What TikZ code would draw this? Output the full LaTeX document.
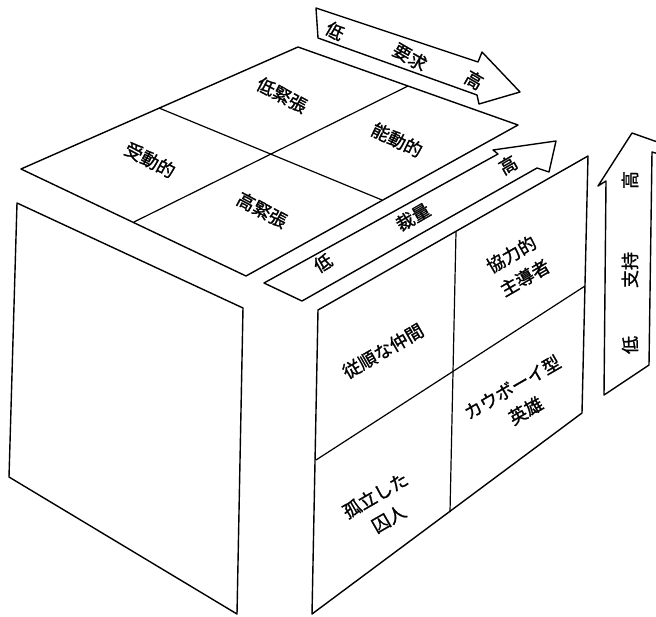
\documentclass[tikz,border=0pt]{standalone}
\usepackage{fontspec}
\newfontfamily\jp[FakeBold=1.2]{Noto Sans CJK JP}
\begin{document}
\begin{tikzpicture}[x=1pt,y=-1pt, line width=1.4pt, line join=round,
  face/.style={draw=black, fill=white},
  divider/.style={draw=black, line width=1.2pt},
  lbl/.style={font=\jp\fontsize{18}{27}\selectfont, inner sep=0pt, align=center},
]
\useasboundingbox (0,0) rectangle (656,616);
\clip (0,0) rectangle (656,616);
\fill[white] (0,0) rectangle (656,616);

% ---------- top face ----------
\coordinate (TL) at (21,169);
\coordinate (TT) at (298,47);
\coordinate (TR) at (518,125);
\coordinate (TB) at (246,276);
\draw[face] (TL) -- (TT) -- (TR) -- (TB) -- cycle;
\coordinate (Ta) at (159,108);
\coordinate (Tb) at (382,200);
\coordinate (Tc) at (408,86);
\coordinate (Td) at (134,222);
\draw[divider] (Ta) -- (Tb);
\draw[divider] (Tc) -- (Td);
\node[lbl, rotate=-28] (lowTension) at (282,95) {低緊張};
\node[lbl, rotate=-28] (passive) at (150,160) {受動的};
\node[lbl, rotate=-28] (highTension) at (262,210) {高緊張};
\node[lbl, rotate=-26] (active) at (397,140) {能動的};

% ---------- demand arrow ----------
\draw[face] (316,8) -- (478,62) -- (482,52) -- (520,92) -- (479,104) -- (477,95) -- (318,38) -- cycle;
\node[lbl, rotate=-30] (dLow) at (335,31) {低};
\node[lbl, rotate=-30] (dMid) at (410,57) {要求};
\node[lbl, rotate=-30] (dHigh) at (474,80) {高};

% ---------- discretion arrow ----------
\draw[face] (264,283) -- (498,154) -- (493,150) -- (556,141) -- (549,172) -- (537,168) -- (302,301) -- cycle;
\node[lbl, rotate=30] (cLow) at (323,263) {低};
\node[lbl, rotate=30] (cMid) at (413,217) {裁量};
\node[lbl, rotate=30] (cHigh) at (508,165) {高};

% ---------- support arrow ----------
\draw[face] (604,395) -- (606,181) -- (598,186) -- (632,133) -- (680,150) -- (680,160) -- (652,152) -- (649,365) -- cycle;
\node[lbl, rotate=90] (sHigh) at (630,180) {高};
\node[lbl, rotate=90] (sMid) at (630,270) {支持};
\node[lbl, rotate=90] (sLow) at (630,345) {低};

% ---------- left face ----------
\draw[face] (17,203) -- (243,308) -- (237,614) -- (9,477) -- cycle;

% ---------- front face ----------
\coordinate (FL) at (318,310);
\coordinate (FT) at (588,156);
\coordinate (FR) at (582,413);
\coordinate (FB) at (312,614);
\draw[face] (FL) -- (FT) -- (FR) -- (FB) -- cycle;
\coordinate (Fv1) at (456,232);
\coordinate (Fv2) at (450,512);
\coordinate (Fh1) at (316,460);
\coordinate (Fh2) at (585,286);
\draw[divider] (Fv1) -- (Fv2);
\draw[divider] (Fh1) -- (Fh2);
\node[lbl, rotate=30] (follower) at (383,351) {従順な仲間};
\node[lbl, rotate=30] (leader) at (518,266) {協力的\\主導者};
\node[lbl, rotate=30] (prisoner) at (382,507) {孤立した\\囚人};
\node[lbl, rotate=30] (cowboy) at (519,399) {カウボーイ型\\英雄};
\end{tikzpicture}
\end{document}
